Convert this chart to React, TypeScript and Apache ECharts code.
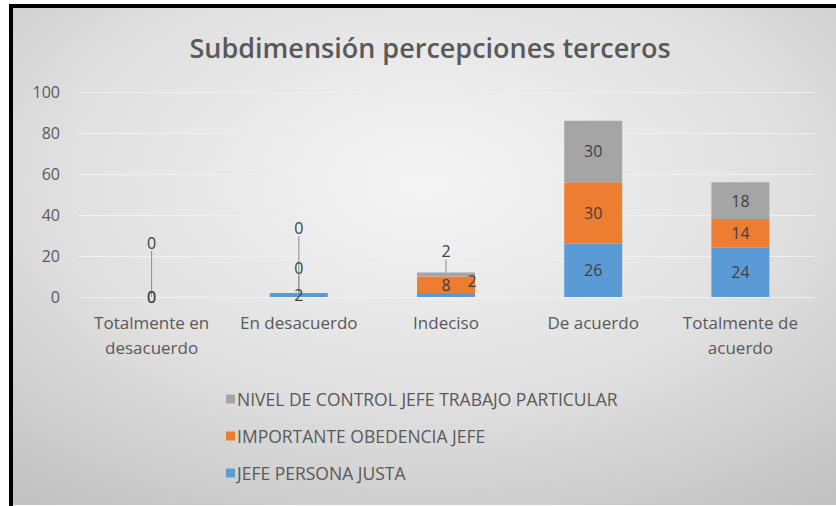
import React, { useEffect, useRef } from "react";
import * as echarts from "echarts";

const categories = [
  "Totalmente en\ndesacuerdo",
  "En desacuerdo",
  "Indeciso",
  "De acuerdo",
  "Totalmente de\nacuerdo",
];
const seriesNames = [
  "JEFE PERSONA JUSTA",
  "IMPORTANTE OBEDENCIA JEFE",
  "NIVEL DE CONTROL JEFE TRABAJO PARTICULAR",
];
const jefePersonaJusta = [0, 2, 2, 26, 24];
const importanteObedencia = [0, 0, 8, 30, 14];
const nivelControl = [0, 0, 2, 30, 18];
const yMin = 0;
const yMax = 100;
const yInterval = 20;

const colors = ["#5b9bd5", "#ed7d31", "#a5a5a5"];
const FONT = "'Open Sans', sans-serif";

// label displacement (style only) per series / category index
const labelShift: Record<number, Record<number, { dx: number; dy: number }>> = {
  0: { 2: { dx: 26, dy: -14 } },
  1: { 1: { dx: 0, dy: -25 } },
  2: { 0: { dx: 0, dy: -54 }, 1: { dx: 0, dy: -65 }, 2: { dx: 0, dy: -23 } },
};

export default function App() {
  const ref = useRef<HTMLDivElement>(null);
  useEffect(() => {
    if (!ref.current) return;
    const chart = echarts.init(ref.current, undefined, { renderer: "svg" });
    const values = [jefePersonaJusta, importanteObedencia, nivelControl];
    chart.setOption({
      animation: false,
      graphic: [
        { type: "rect", z: -10, silent: true, shape: { x: 0, y: 0, width: 836, height: 506 }, style: { fill: "#ffffff" } },
        {
          type: "rect",
          z: -9,
          silent: true,
          shape: { x: 13, y: 8, width: 823, height: 497 },
          style: {
            fill: new echarts.graphic.RadialGradient(0.5, 0.35, 0.8, [
              { offset: 0, color: "#f5f5f5" },
              { offset: 0.55, color: "#e0e0e0" },
              { offset: 1, color: "#c2c2c2" },
            ]),
          },
        },
        { type: "rect", z: -8, silent: true, shape: { x: 9, y: 4, width: 4, height: 502 }, style: { fill: "#000000" } },
        { type: "rect", z: -8, silent: true, shape: { x: 9, y: 4, width: 827, height: 4 }, style: { fill: "#000000" } },
      ],
      title: {
        text: "Subdimensión percepciones terceros",
        left: 425,
        textAlign: "center",
        top: 29,
        textStyle: { fontFamily: FONT, fontSize: 27, fontWeight: 600, color: "#595959" },
      },
      legend: {
        orient: "vertical",
        left: 221,
        top: 385,
        itemWidth: 9,
        itemHeight: 9,
        itemGap: 19,
        icon: "rect",
        data: [seriesNames[2], seriesNames[1], seriesNames[0]],
        textStyle: { fontFamily: FONT, fontSize: 17.5, color: "#595959", padding: [0, 0, 0, -3] },
      },
      grid: { left: 78, right: 22, top: 92, bottom: 209 },
      xAxis: {
        type: "category",
        data: categories,
        axisLine: { show: false },
        axisTick: { show: false },
        axisLabel: { fontFamily: FONT, fontSize: 17, color: "#595959", margin: 13, lineHeight: 25, interval: 0 },
      },
      yAxis: {
        type: "value",
        min: yMin,
        max: yMax,
        interval: yInterval,
        axisLine: { show: false },
        axisTick: { show: false },
        axisLabel: { fontFamily: FONT, fontSize: 16, color: "#595959", margin: 18 },
        splitLine: { lineStyle: { color: "#f0f0f0", width: 1 } },
      },
      series: values.map((v, si) => ({
        name: seriesNames[si],
        type: "bar",
        stack: "total",
        barWidth: 58,
        data: v,
        itemStyle: { color: colors[si] },
        label: {
          show: true,
          position: "inside",
          fontFamily: FONT,
          fontSize: 16,
          color: "#404040",
        },
        labelLine: { show: true, lineStyle: { color: "#8c8c8c", width: 1 } },
        labelLayout: (p: any) => {
          const s = labelShift[si] && labelShift[si][p.dataIndex];
          return s ? { dx: s.dx, dy: s.dy } : {};
        },
      })),
    });
    return () => chart.dispose();
  }, []);
  return (
    <div
      ref={ref}
      style={{ position: "absolute", left: 0, top: 0, width: 836, height: 506 }}
    />
  );
}
